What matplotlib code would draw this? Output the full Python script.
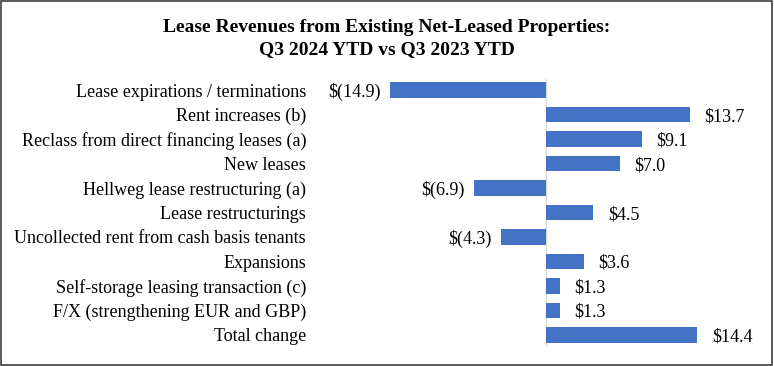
import matplotlib.pyplot as plt
from matplotlib.patches import Rectangle

categories = [
    "Lease expirations / terminations",
    "Rent increases (b)",
    "Reclass from direct financing leases (a)",
    "New leases",
    "Hellweg lease restructuring (a)",
    "Lease restructurings",
    "Uncollected rent from cash basis tenants",
    "Expansions",
    "Self-storage leasing transaction (c)",
    "F/X (strengthening EUR and GBP)",
    "Total change",
]
values = [-14.9, 13.7, 9.1, 7.0, -6.9, 4.5, -4.3, 3.6, 1.3, 1.3, 14.4]

plt.rcParams['font.family'] = ['Liberation Serif', 'DejaVu Serif']

fig = plt.figure(figsize=(7.74, 3.66), dpi=100)
ax = fig.add_axes([320 / 774, 20 / 366, 440 / 774, 267 / 366])

ypos = list(range(len(categories)))
ax.barh(ypos, values, height=0.62, color="#4472C4", zorder=2)
ax.axvline(0, color="#D9D9D9", lw=1, zorder=1)

for y, v in zip(ypos, values):
    if v < 0:
        ax.text(v - 0.9, y, f"$({abs(v):.1f})", ha="right", va="center_baseline", fontsize=13)
    else:
        ax.text(v + 1.4, y, f"${v:.1f}", ha="left", va="center_baseline", fontsize=13)

ax.set_yticks(ypos)
ax.set_yticklabels(categories, fontsize=13)
ax.set_ylim(len(categories) - 0.55, -0.45)
ax.set_xlim(-21.6, 20.4)
ax.set_xticks([])
ax.tick_params(axis="y", length=0, pad=10)
for s in ax.spines.values():
    s.set_visible(False)

fig.text(0.5, 1 - 27 / 366, "Lease Revenues from Existing Net-Leased Properties:",
         ha="center", va="center", fontsize=14, fontweight="bold")
fig.text(0.5, 1 - 50 / 366, "Q3 2024 YTD vs Q3 2023 YTD",
         ha="center", va="center", fontsize=14, fontweight="bold")

fig.patches.append(Rectangle((0.001, 0.002), 0.997, 0.995, transform=fig.transFigure,
                             fill=False, edgecolor="#404040", lw=1.2))

fig.savefig("out.png", dpi=100)
